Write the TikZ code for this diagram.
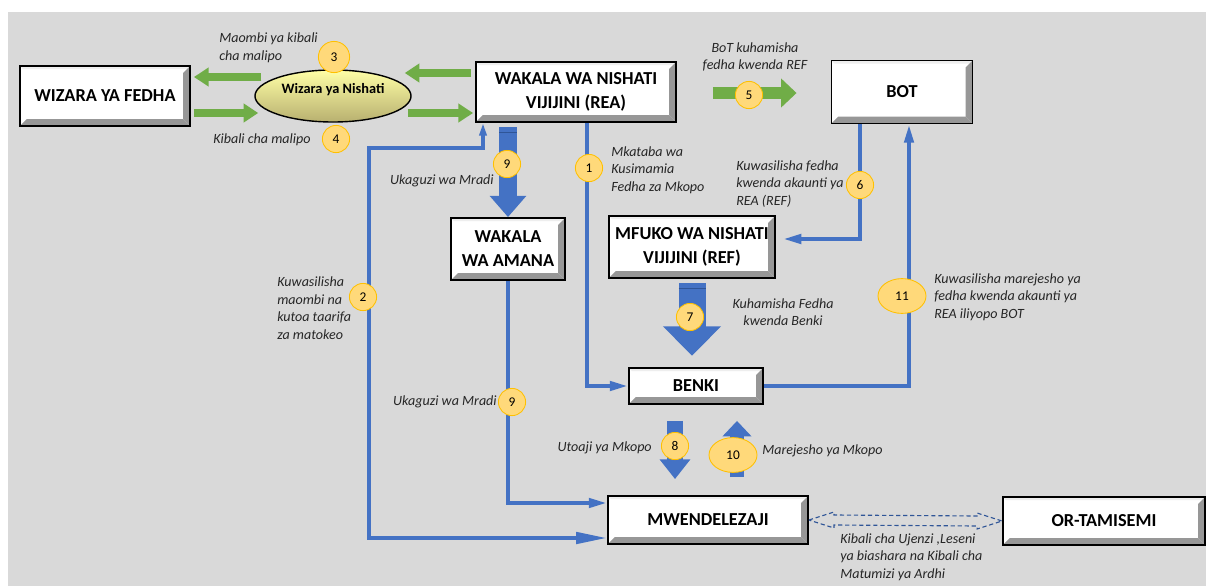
\documentclass[tikz,border=0pt]{standalone}
\usepackage{fontspec}
\setmainfont{Carlito}
\usetikzlibrary{arrows.meta,calc,shapes.geometric}

\definecolor{bggray}{HTML}{D9D9D9}
\definecolor{bevelgray}{HTML}{979797}
\definecolor{bevellight}{HTML}{EEEEEE}
\definecolor{lineblue}{HTML}{4472C4}
\definecolor{edgeblue}{HTML}{2F5597}
\definecolor{arrowgreen}{HTML}{70AD47}
\definecolor{badgefill}{HTML}{FFD97A}
\definecolor{badgeedge}{HTML}{FFC000}
\definecolor{ellipsetop}{HTML}{FFFFA6}
\definecolor{ellipsebot}{HTML}{B8B070}
\definecolor{labeltext}{HTML}{262626}

\tikzset{
  bevelbox/.style={draw=black, line width=1.3pt, fill=white, align=center, inner sep=0pt,
    font=\fontsize{13}{17}\selectfont\bfseries,
    path picture={
      \fill[bevellight] (path picture bounding box.north west) -- (path picture bounding box.north east)
        -- ([shift={(-0.08cm,-0.08cm)}]path picture bounding box.north east)
        -- ([shift={(0.08cm,-0.08cm)}]path picture bounding box.north west) -- cycle;
      \fill[bevelgray] (path picture bounding box.south west) -- (path picture bounding box.south east)
        -- ([shift={(-0.17cm,0.17cm)}]path picture bounding box.south east)
        -- ([shift={(0.17cm,0.17cm)}]path picture bounding box.south west) -- cycle;
      \fill[bevelgray] (path picture bounding box.south east) -- (path picture bounding box.north east)
        -- ([shift={(-0.17cm,-0.17cm)}]path picture bounding box.north east)
        -- ([shift={(-0.17cm,0.17cm)}]path picture bounding box.south east) -- cycle;
    }},
  nishati/.style={ellipse, draw=black, line width=1pt, inner sep=0pt,
    top color=ellipsetop, middle color=ellipsetop, bottom color=ellipsebot,
    minimum width=3.9cm, minimum height=1.3cm, text depth=0.4cm,
    font=\fontsize{10.2}{12}\selectfont\bfseries},
  badge/.style={circle, draw=badgeedge, line width=0.6pt, fill=badgefill, inner sep=0pt,
    minimum size=0.68cm, font=\fontsize{9.5}{11}\selectfont},
  badgewide/.style={badge, ellipse, minimum width=1.2cm, minimum height=0.87cm},
  note/.style={font=\fontsize{10}{12.5}\selectfont\itshape, text=labeltext, align=left, inner sep=0pt},
  flowline/.style={draw=lineblue, line width=2.8pt, -{Triangle[length=13pt,width=6.5pt]}},
  bigblue/.style={draw=lineblue},
  greenarrow/.style={draw=arrowgreen, line width=5.7pt, -{Triangle[length=10.5pt,width=13pt]}},
  permit/.style={draw=edgeblue, line width=0.8pt, dash pattern=on 3pt off 2pt},
}

\begin{document}
\begin{tikzpicture}[x=0.025cm, y=-0.025cm]
  % Background
  \useasboundingbox (0,0) rectangle (1206,586);
  \fill[bggray] (8,12) rectangle (1206,586);

  % Institutions
  \node[bevelbox, minimum width=4.25cm, minimum height=1.5cm] (fedha) at (105,96) {WIZARA YA FEDHA};
  \node[nishati] (ell) at (333,96) {Wizara ya Nishati};
  \node[bevelbox, minimum width=5cm, minimum height=1.5cm] (rea) at (576,92) {WAKALA WA NISHATI\\VIJIJINI (REA)};
  \node[bevelbox, minimum width=3.525cm, minimum height=1.575cm] (bot) at (902,92) {BOT};
  \node[bevelbox, minimum width=2.85cm, minimum height=1.55cm] (amana) at (508,249) {WAKALA\\WA AMANA};
  \node[bevelbox, minimum width=4.15cm, minimum height=1.55cm] (ref) at (692,247) {MFUKO WA NISHATI\\VIJIJINI (REF)};
  \node[bevelbox, minimum width=3.35cm, minimum height=0.9cm] (benki) at (696,386) {BENKI};
  \node[bevelbox, minimum width=5cm, minimum height=1.2cm] (mwend) at (708,520) {MWENDELEZAJI};
  \node[bevelbox, minimum width=5.05cm, minimum height=1.2cm] (tamisemi) at (1104,521) {OR-TAMISEMI};

  % Green arrows
  \draw[greenarrow] ($(ell.west |- 0,77)+(7,0)$) -- ($(fedha.east |- 0,77)+(3,0)$);
  \draw[greenarrow] ($(fedha.east |- 0,113)+(3,0)$) -- ($(ell.west |- 0,113)+(4,0)$);
  \draw[greenarrow] ($(rea.west |- 0,73)+(-4,0)$) -- ($(ell.east |- 0,73)+(-7,0)$);
  \draw[greenarrow] ($(ell.east |- 0,113)+(-4,0)$) -- ($(rea.west |- 0,113)+(-2,0)$);
  \draw[greenarrow, line width=9.2pt, -{Triangle[length=11pt,width=20pt]}] ($(rea.east)+(36,1)$) -- ($(bot.west)+(-34,1)$);

  % Blue lines
  \draw[flowline] (rea.south -| 587,0) |- (benki.west);
  \draw[flowline, {Triangle[length=9pt,width=5pt]}-{Triangle[length=22pt,width=8pt]}] (rea.south -| 483,0) |- (369,148) |- (mwend.west |- 0,538);
  \draw[flowline] (amana.south) |- (mwend.west |- 0,503);
  \draw[flowline, shorten >=5pt] (bot.south -| 860,0) |- (ref.east |- 0,239);
  \draw[flowline] (benki.east) -| (bot.south -| 909,0);

  % Big blue arrows
  \draw[bigblue, line width=12.8pt, -{Triangle[length=15pt,width=25pt]}, shorten <=3pt] (rea.south -| amana.north) -- (amana.north);
  \draw[edgeblue, line width=0.5pt] ($(rea.south -| amana.north)+(-9,9)$) -- ++(18,0);
  \draw[bigblue, line width=19.2pt, -{Triangle[length=21pt,width=40pt]}, shorten <=3pt, shorten >=8pt] (ref.south) -- (ref.south |- benki.north);
  \draw[edgeblue, line width=0.5pt] ($(ref.south)+(-13.5,9)$) -- ++(27,0);
  \draw[bigblue, line width=10.7pt, -{Triangle[length=14pt,width=21pt]}] ($(benki.south)+(-21,16)$) -- ($(benki.south |- mwend.north)+(-21,-16)$);
  \draw[bigblue, line width=10pt, -{Triangle[length=11pt,width=20pt]}] ($(benki.south |- mwend.north)+(41,-18)$) -- ($(benki.south)+(41,16)$);

  % Permits, dashed double arrow
  \draw[permit] (mwend.east) -- ++(25,-8) -- ++(0,3) -- ($(tamisemi.west)+(-25,-5)$) -- ++(0,-3)
    -- (tamisemi.west) -- ++(-25,8) -- ++(0,-3) -- ($(mwend.east)+(25,5)$) -- ++(0,3) -- cycle;

  % Steps
  \node[badge] (b1) at (589,168) {1};
  \node[badge] (b2) at (363,297) {2};
  \node[badge, minimum size=0.78cm] (b3) at (334,57) {3};
  \node[badge] (b4) at (336,139) {4};
  \node[badge] (b5) at (749,95) {5};
  \node[badge] (b6) at (860,185) {6};
  \node[badge] (b7) at (690,317) {7};
  \node[badge] (b8) at (675,446) {8};
  \node[badge] (b9a) at (507,164) {9};
  \node[badge] (b9b) at (512,402) {9};
  \node[badgewide] (b10) at (733,455) {10};
  \node[badgewide] (b11) at (902,296) {11};

  % Labels
  \node[note, anchor=west] (t3) at (219,48) {Maombi ya kibali\\cha malipo};
  \node[note, anchor=west] (t4) at (213,140) {Kibali cha malipo};
  \node[note, align=center] (t5) at (755,57) {BoT kuhamisha\\fedha kwenda REF};
  \node[note, anchor=west] (t1) at (611,170) {Mkataba wa\\Kusimamia\\Fedha za Mkopo};
  \node[note, anchor=east] (t9a) at (494,181) {Ukaguzi wa Mradi};
  \node[note, anchor=west] (t6) at (736,184) {Kuwasilisha fedha\\kwenda akaunti ya\\REA (REF)};
  \node[note, anchor=west] (t2) at (277,308) {Kuwasilisha\\maombi na\\kutoa taarifa\\za matokeo};
  \node[note, align=center] (t7) at (783,312) {Kuhamisha Fedha\\kwenda Benki};
  \node[note, anchor=west] (t11) at (934,297) {Kuwasilisha marejesho ya\\fedha kwenda akaunti ya\\REA iliyopo BOT};
  \node[note, anchor=east] (t9b) at (497,402) {Ukaguzi wa Mradi};
  \node[note, anchor=east] (t8) at (652,448) {Utoaji ya Mkopo};
  \node[note, anchor=west] (t10) at (762,451) {Marejesho ya Mkopo};
  \node[note, anchor=west] (tkib) at (840,557) {Kibali cha Ujenzi ,Leseni\\ya biashara na Kibali cha\\Matumizi ya Ardhi};
\end{tikzpicture}
\end{document}
